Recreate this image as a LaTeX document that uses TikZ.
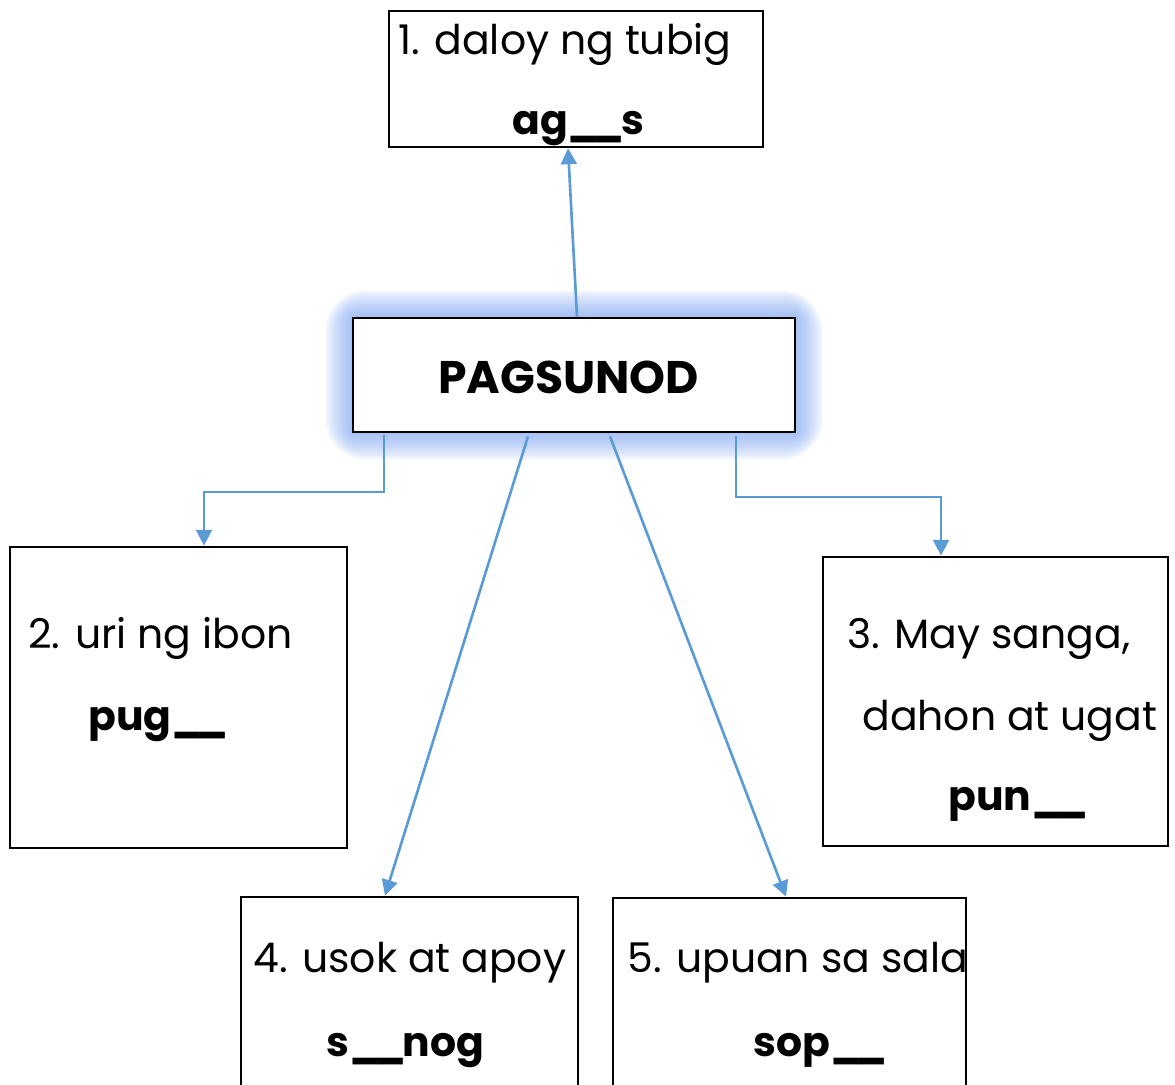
\documentclass[tikz,border=0pt]{standalone}
\usepackage{fontspec}
\setmainfont{Poppins}
\usetikzlibrary{positioning}
\usetikzlibrary{calc}
\usetikzlibrary{arrows.meta}
\definecolor{linkblue}{RGB}{91,155,213}
\definecolor{glowblue}{RGB}{120,160,240}
\newcommand{\blank}{\_\kern-0.17em\_\kern-0.08em}

\begin{document}
\begin{tikzpicture}[x=0.02cm, y=-0.02cm]
\fontsize{23.3}{28}\selectfont

% used shapes
\tikzstyle{box} = [rectangle, draw, line width=1.6pt, fill=white, inner sep=0pt]
\tikzstyle{txt} = [anchor=base west, inner sep=0pt]
\tikzstyle{bold} = [txt, font=\bfseries]
\tikzstyle{link} = [draw=linkblue, line width=1.5pt, -{Triangle[length=9pt, width=9pt]}]

\useasboundingbox (0,0) rectangle (1175,1084);

% glow round the middle box
\foreach \g in {1,...,14}
  \fill[glowblue, opacity=0.07, rounded corners=\g*0.06cm]
    (353-2*\g, 318-2*\g) rectangle (795+2*\g, 432+2*\g);

\node [box, minimum width=8.84cm, minimum height=2.28cm] (main) at (574,375) {};
\node [box, minimum width=7.48cm, minimum height=2.72cm] (tubig) at (576,79) {};
\node [box, minimum width=6.74cm, minimum height=6.02cm] (ibon) at (178.5,697.5) {};
\node [box, minimum width=6.90cm, minimum height=5.78cm] (puno) at (995.5,701.5) {};
\node [box, minimum width=6.74cm, minimum height=4.06cm] (usok) at (409.5,998.5) {};
\node [box, minimum width=7.06cm, minimum height=4.04cm] (upuan) at (789.5,999) {};

\node [bold, font=\fontsize{26}{30}\selectfont\bfseries] (title) at (438,393) {PAGSUNOD};

\node [txt] (t1) at (398,55) {1. daloy ng tubig};
\node [bold] (b1) at (512,135) {ag\blank s};

\node [txt] (t2) at (28,648) {2. uri ng ibon};
\node [bold] (b2) at (88,730) {pug\blank};

\node [txt] (t3) at (847,648) {3. May sanga,};
\node [txt] (t3b) at (862,730) {dahon at ugat};
\node [bold] (b3) at (948,810) {pun\blank};

\node [txt] (t4) at (253,972) {4. usok at apoy};
\node [bold] (b4) at (326,1056) {s\blank nog};

\node [txt] (t5) at (627,972) {5. upuan sa sala};
\node [bold] (b5) at (753,1056) {sop\blank};

% connectors
\draw [link] ([xshift=0.06cm]main.north) -- ([xshift=-0.16cm]tubig.south);
\coordinate (sl) at ([xshift=-3.8cm, yshift=-0.04cm]main.south);
\draw [link] (sl) -- (sl |- 0,492) -| ([xshift=0.51cm]ibon.north);
\draw [link] ([xshift=-0.92cm, yshift=-0.06cm]main.south) -- ([xshift=-0.49cm]usok.north);
\draw [link] ([xshift=0.72cm, yshift=-0.06cm]main.south) -- ([xshift=-0.07cm]upuan.north);
\coordinate (sr) at ([xshift=3.24cm, yshift=-0.06cm]main.south);
\draw [link] (sr) -- (sr |- 0,497) -| ([xshift=-1.09cm]puno.north);

\end{tikzpicture}
\end{document}
